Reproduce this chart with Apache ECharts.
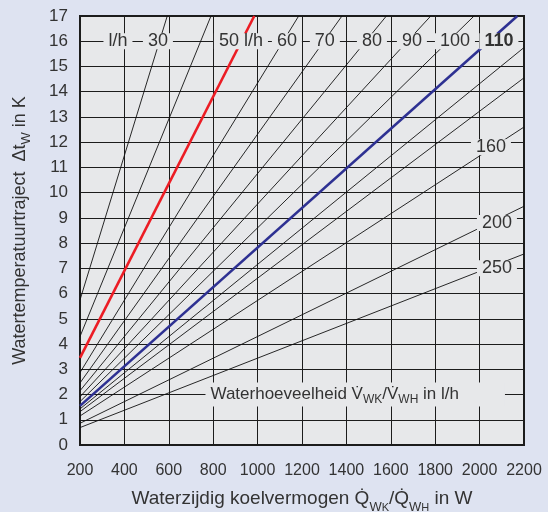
<!DOCTYPE html>
<html><head><meta charset="utf-8">
<script src="https://cdn.jsdelivr.net/npm/echarts@6/dist/echarts.min.js"></script>
<style>html,body{margin:0;padding:0;background:#dee3f1;}#c{width:548px;height:512px;}</style>
</head><body><div id="c"></div>
<script>
// Flow lines (l/h): start value at 200 W and end point where each line leaves the plot
const flows  = ['30','40','50','60','70','80','90','100','110','120','130','160','200','250'];
const startT = [5.75, 4.3, 3.45, 2.87, 2.46, 2.15, 1.91, 1.72, 1.55, 1.43, 1.32, 1.15, 0.86, 0.69];
const endQ   = [593, 790, 985, 1185, 1380, 1580, 1780, 1975, 2170, 2200, 2200, 2200, 2200, 2200];
const endT   = [17, 17, 17, 17, 17, 17, 17, 17, 17, 15.75, 14.55, 12.6, 9.46, 7.57];
// Line labels
const labelText = ['l/h', '30', '50 l/h', '60', '70', '80', '90', '100', '{b|110}', '160', '200', '250'];
const labelQ    = [371, 551, 925, 1132, 1303, 1515, 1695, 1889, 2087, 2051, 2078, 2078];
const labelT    = [16, 16, 16, 16, 16, 16, 16, 16, 16, 11.8, 8.8, 7.0];
// Axis scale
const xMin = 200, xMax = 2200, xStep = 200;
const yMin = 0, yMax = 17, yStep = 1;

const FONT = 'Liberation Sans';
const TXT = '#333';
const PLOTBG = '#e7e8ea';
const INK = '#1c1c1c';

const chart = echarts.init(document.getElementById('c'), null, {renderer: 'canvas'});
const series = flows.map((f, i) => ({
  type: 'line',
  name: f,
  data: [[xMin, startT[i]], [endQ[i], endT[i]]],
  symbol: 'none',
  silent: true,
  z: (f === '50' || f === '110') ? 4 : 3,
  lineStyle: {
    color: f === '50' ? '#ec1c24' : (f === '110' ? '#2e3192' : '#111'),
    width: (f === '50' || f === '110') ? 2.6 : 0.9
  }
}));
const labelBase = {
  show: true, fontFamily: FONT, color: TXT, opacity: 1,
  textBorderWidth: 0, textBorderColor: 'transparent', textShadowBlur: 0,
  backgroundColor: PLOTBG
};
series.push({
  type: 'scatter',
  symbolSize: 1,
  silent: true,
  z: 10,
  itemStyle: {color: PLOTBG, opacity: 0},
  data: labelText.map((t, i) => ({value: [labelQ[i], labelT[i]], name: t})),
  label: Object.assign({}, labelBase, {
    position: 'inside',
    formatter: p => p.name,
    fontSize: 18, padding: [0, 5], lineHeight: 16,
    rich: {b: {fontFamily: FONT, fontSize: 18, fontWeight: 'bold', color: TXT, lineHeight: 16}}
  })
});
series.push({
  type: 'scatter',
  symbolSize: 1,
  silent: true,
  z: 10,
  itemStyle: {color: PLOTBG, opacity: 0},
  data: [{value: [763, 2], name: 'Waterhoeveelheid V\u0307{s|WK}/V\u0307{s|WH} in l/h'}],
  label: Object.assign({}, labelBase, {
    position: 'right', distance: 0,
    formatter: p => p.name,
    fontSize: 17, padding: [1, 46, 1, 5], lineHeight: 22,
    rich: {s: {fontFamily: FONT, fontSize: 12, color: TXT, lineHeight: 12, verticalAlign: 'bottom'}}
  })
});

chart.setOption({
  animation: false,
  backgroundColor: '#dee3f1',
  grid: {left: 80, right: 24, top: 16, bottom: 67, containLabel: false, outerBoundsMode: 'none',
         show: true, backgroundColor: PLOTBG, borderColor: INK, borderWidth: 2},
  xAxis: {
    type: 'value', min: xMin, max: xMax, interval: xStep,
    axisLine: {show: true, lineStyle: {color: INK, width: 2}},
    axisTick: {show: false},
    splitLine: {show: true, lineStyle: {color: INK, width: 1}},
    axisLabel: {color: TXT, fontFamily: FONT, fontSize: 16, margin: 18, formatter: v => String(v)},
    name: 'Waterzijdig koelvermogen Q\u0307{w|W}{k|K}/Q\u0307{w|W}{k|H} in W',
    nameLocation: 'middle', nameGap: 38,
    nameTextStyle: {
      color: TXT, fontFamily: FONT, fontSize: 19, lineHeight: 30,
      rich: {
        w: {fontFamily: FONT, fontSize: 13, color: TXT, lineHeight: 18, verticalAlign: 'bottom'},
        k: {fontFamily: FONT, fontSize: 11, color: TXT, lineHeight: 10, verticalAlign: 'bottom'}
      }
    }
  },
  yAxis: {
    type: 'value', min: yMin, max: yMax, interval: yStep,
    axisLine: {show: true, lineStyle: {color: INK, width: 2}},
    axisTick: {show: false},
    splitLine: {show: true, lineStyle: {color: INK, width: 1}},
    axisLabel: {color: TXT, fontFamily: FONT, fontSize: 17, margin: 12},
    name: 'Watertemperatuurtraject  \u0394t{w|W} in K',
    nameLocation: 'middle', nameGap: 47, nameRotate: 90,
    nameTextStyle: {
      color: TXT, fontFamily: FONT, fontSize: 18, lineHeight: 26,
      rich: {w: {fontFamily: FONT, fontSize: 13, color: TXT, lineHeight: 14, verticalAlign: 'bottom'}}
    }
  },
  series: series
});
</script></body></html>
